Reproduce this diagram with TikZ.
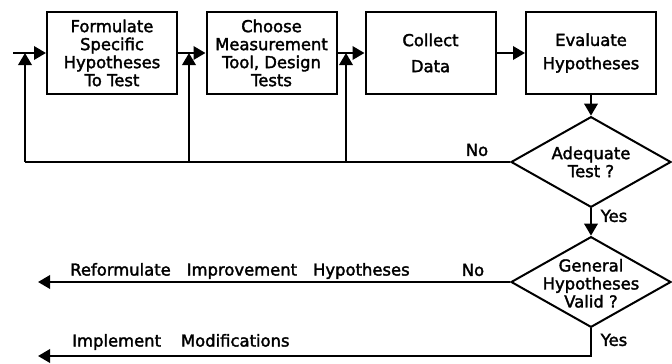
\documentclass[tikz,border=0pt]{standalone}
\usepackage{fontspec}
\setmainfont{DejaVu Sans}
\newfontfamily\lett[FakeBold=2]{DejaVu Sans}
\usetikzlibrary{shapes.geometric,arrows.meta}
\begin{document}
\begin{tikzpicture}[x=0.75pt,y=-0.75pt,
  line/.style={line width=1.8pt},
  arr/.style={line width=1.8pt,-{Triangle[length=9pt,width=10pt]}},
  box/.style={draw,line width=1.5pt,minimum width=97.5pt,minimum height=61.5pt,align=center,inner sep=0pt,font=\lett\fontsize{12.3}{13.5}\selectfont},
  dia/.style={draw,diamond,line width=1.5pt,minimum width=120pt,minimum height=68pt,shape aspect=1.74,inner sep=0pt},
  dtext/.style={align=center,inner sep=0pt,font=\lett\fontsize{12.3}{13.5}\selectfont},
  lbl/.style={font=\lett\fontsize{12.3}{14}\selectfont,inner sep=0pt}]
\useasboundingbox (0,0) rectangle (672,364);
\node[box] (b1) at (112,53) {Formulate\\Specific\\Hypotheses\\To Test};
\node[box] (b2) at (271.5,53) {Choose\\Measurement\\Tool, Design\\Tests};
\node[box] (b3) at (430.5,53) {Collect\\[6pt]Data};
\node[box] (b4) at (591,53) {Evaluate\\[4pt]Hypotheses};
\node[dia] (d1) at (591,162) {};
\node[dtext] (d1t) at (d1.center) {Adequate\\Test ?};
\node[dia] (d2) at (591,282) {};
\node[dtext] (d2t) at ([yshift=-1pt]d2.center) {General\\Hypotheses\\Valid ?};
\coordinate (in) at (13,53);
\coordinate (f1) at (25,162);
\coordinate (f2) at (189,162);
\coordinate (f3) at (346,162);
\coordinate (o1) at (38,285);
\coordinate (o2) at (38,356);
\draw[arr] (in) -- (b1.west);
\draw[arr] (b1.east) -- (b2.west);
\draw[arr] (b2.east) -- (b3.west);
\draw[arr] (b3.east) -- (b4.west);
\draw[arr] (b4.south) -- (d1.north);
\draw[line] (d1.west) -- (f1);
\draw[arr] (f1) -- (f1 |- b1.west);
\draw[arr] (f2) -- (f2 |- b1.east);
\draw[arr] (f3) -- (f3 |- b2.east);
\draw[arr] (d1.south) -- (d2.north);
\draw[arr] (d2.west) -- (o1 |- d2.west);
\draw[arr] (d2.south) |- (o2);
\node[lbl] (no1) at (477,150) {No};
\node[lbl] (yes1) at (614,216) {Yes};
\node[lbl] (no2) at (473,270) {No};
\node[lbl,anchor=west] (t1) at (70,271) {Reformulate\hspace{12pt}Improvement\hspace{12pt}Hypotheses};
\node[lbl] (yes2) at (614,340) {Yes};
\node[lbl,anchor=west] (t2) at (72,342) {Implement\hspace{15pt}Modifications};
\end{tikzpicture}
\end{document}
